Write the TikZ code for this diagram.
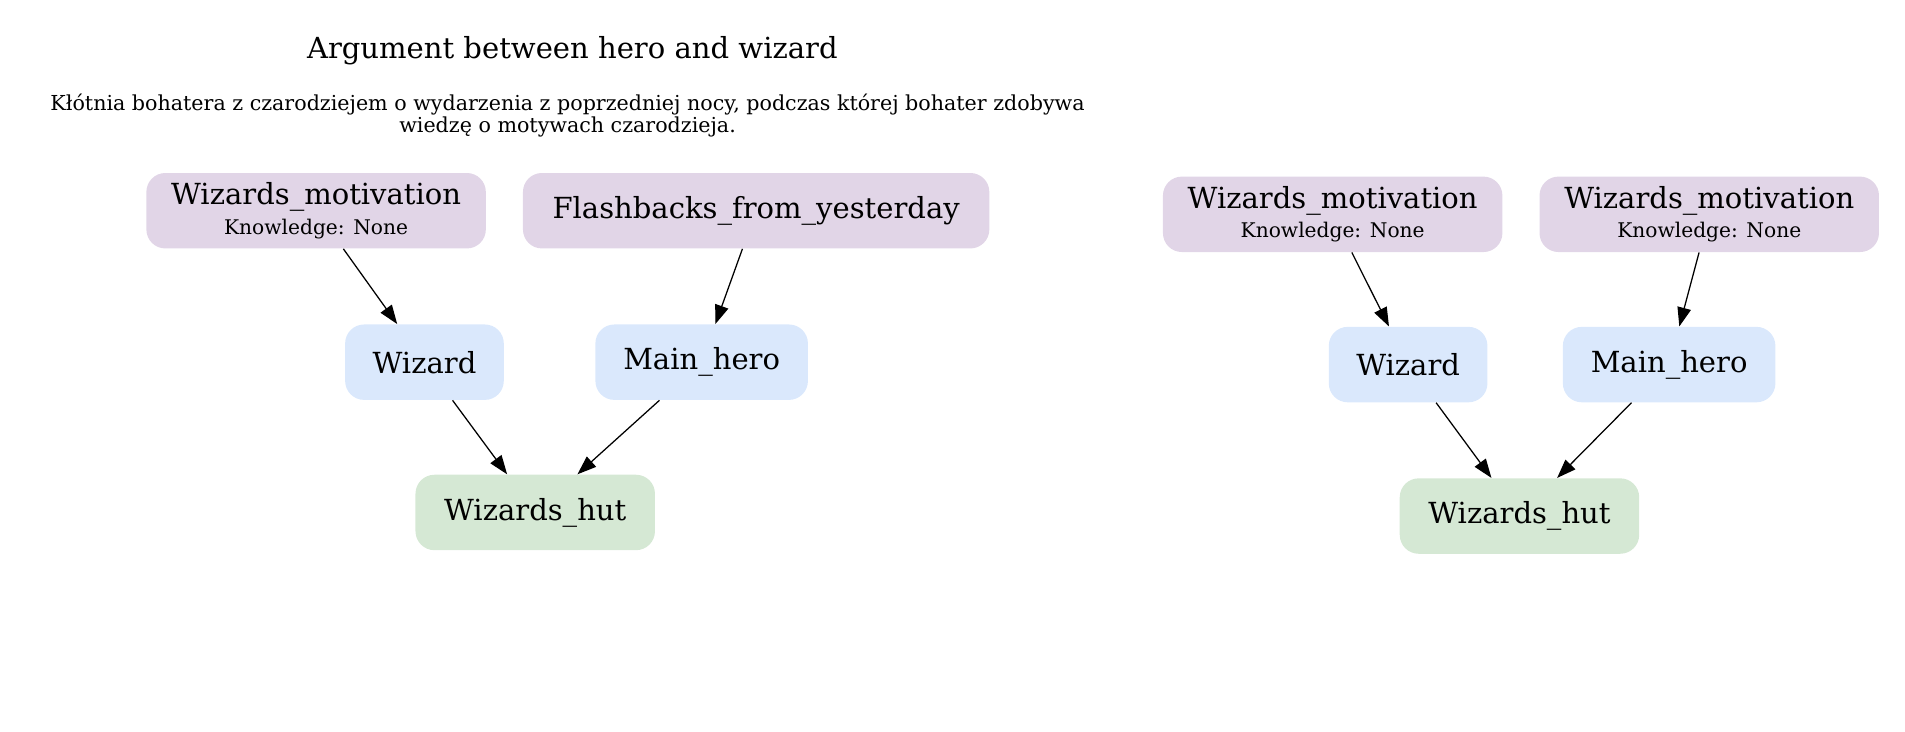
\documentclass[tikz,border=0pt]{standalone}
\usepackage{fontspec}
\setmainfont{DejaVu Serif}
\usetikzlibrary{arrows.meta}

\definecolor{plotfill}{HTML}{E1D5E7}
\definecolor{charfill}{HTML}{DAE8FC}
\definecolor{placefill}{HTML}{D5E8D4}

\begin{document}
\begin{tikzpicture}[
    box/.style={rounded corners=9pt, inner sep=0pt, minimum height=1.26cm, align=center, font=\fontsize{13.8}{16}\selectfont},
    plotbox/.style={box, fill=plotfill},
    charbox/.style={box, fill=charfill},
    placebox/.style={box, fill=placefill},
    edge/.style={-{Triangle[length=9pt, width=6.5pt]}, line width=0.6pt}]
    \useasboundingbox (0, 0) rectangle (31.82, 12.22);

    %Title
    \node[font=\fontsize{13.8}{16}\selectfont] at (9.56, 11.38) (title) {Argument between hero and wizard};
    \node[align=center, font=\fontsize{9.8}{9.4}\selectfont] at (9.48, 10.29) (desc) {Kłótnia bohatera z czarodziejem o wydarzenia z poprzedniej nocy, podczas której bohater zdobywa\\wiedzę o motywach czarodzieja.};

    %Nodes
    \node[plotbox, minimum width=5.67cm] at (5.28, 8.70) (lMotive) {Wizards\_motivation\\[-2pt]{\fontsize{9.6}{12}\selectfont Knowledge: None}};
    \node[plotbox, minimum width=7.79cm] at (12.63, 8.70) (lFlash) {Flashbacks\_from\_yesterday};
    \node[charbox, minimum width=2.65cm] at (7.09, 6.17) (lWizard) {Wizard};
    \node[charbox, minimum width=3.55cm] at (11.72, 6.17) (lHero) {Main\_hero};
    \node[placebox, minimum width=4.00cm] at (8.94, 3.66) (lHut) {Wizards\_hut};

    \node[plotbox, minimum width=5.67cm] at (22.26, 8.64) (rMotiveA) {Wizards\_motivation\\[-2pt]{\fontsize{9.6}{12}\selectfont Knowledge: None}};
    \node[plotbox, minimum width=5.67cm] at (28.55, 8.64) (rMotiveB) {Wizards\_motivation\\[-2pt]{\fontsize{9.6}{12}\selectfont Knowledge: None}};
    \node[charbox, minimum width=2.65cm] at (23.52, 6.13) (rWizard) {Wizard};
    \node[charbox, minimum width=3.55cm] at (27.88, 6.13) (rHero) {Main\_hero};
    \node[placebox, minimum width=4.00cm] at (25.38, 3.60) (rHut) {Wizards\_hut};

    %Lines
    \draw[edge] (lMotive) -- (lWizard);
    \draw[edge] (lFlash) -- (lHero);
    \draw[edge] (lWizard) -- (lHut);
    \draw[edge] (lHero) -- (lHut);

    \draw[edge] (rMotiveA) -- (rWizard);
    \draw[edge] (rMotiveB) -- (rHero);
    \draw[edge] (rWizard) -- (rHut);
    \draw[edge] (rHero) -- (rHut);

\end{tikzpicture}
\end{document}
